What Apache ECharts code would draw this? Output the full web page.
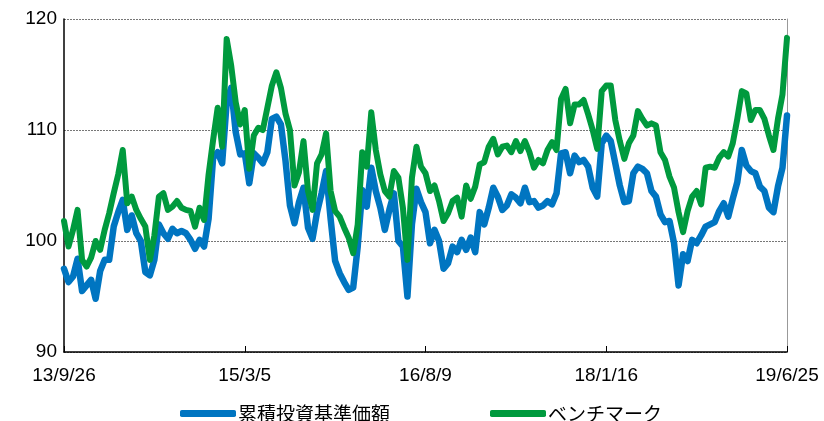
<!DOCTYPE html>
<html>
<head>
<meta charset="utf-8">
<script src="https://cdn.jsdelivr.net/npm/echarts@6/dist/echarts.min.js"></script>
<style>
  html, body { margin: 0; padding: 0; background: #fff; }
  #chart { width: 824px; height: 421px; }
</style>
</head>
<body>
<div id="chart"></div>
<script>
// x軸ラベル（40点ごと）
var xLabels = ["13/9/26", "15/3/5", "16/8/9", "18/1/16", "19/6/25"];
var labelStep = 40;
var yTicks = [90, 100, 110, 120];

// 累積投資基準価額
var fundValues = [
  97.5, 96.3, 96.8, 98.4, 95.5, 96.0, 96.5, 94.8, 97.3, 98.3,
  98.3, 101.3, 102.6, 103.7, 101.0, 102.3, 100.7, 100.0, 97.2, 96.9,
  98.3, 101.5, 100.7, 100.2, 101.1, 100.7, 100.9, 100.7, 100.1, 99.3,
  100.1, 99.5, 102.0, 107.5, 108.0, 107.0, 112.5, 113.8, 109.8, 107.8,
  107.9, 105.2, 107.9, 107.5, 107.0, 108.0, 111.0, 111.2, 110.5, 107.3,
  103.2, 101.6, 103.5, 104.8, 101.2, 100.2, 102.6, 104.3, 106.3, 102.0,
  98.2, 97.1, 96.3, 95.6, 95.8, 99.5, 104.6, 103.1, 106.6, 104.5,
  103.0, 101.0, 102.8, 104.3, 100.0, 99.5, 95.0, 101.5, 104.7, 103.5,
  102.6, 99.8, 101.0, 100.0, 97.5, 98.0, 99.5, 99.0, 100.1, 99.2,
  100.3, 99.0, 102.6, 101.5, 103.0, 104.8, 104.0, 102.8, 103.2, 104.2,
  103.9, 103.4, 104.8, 103.5, 103.6, 103.0, 103.2, 103.6, 103.3, 104.3,
  107.9, 108.0, 106.1, 107.7, 107.1, 107.3, 106.7, 104.8, 104.0, 108.8,
  109.5, 109.0, 107.0, 105.0, 103.5, 103.6, 106.1, 106.7, 106.5, 106.1,
  104.5, 104.0, 102.4, 101.7, 101.8, 99.8, 96.0, 98.8, 98.2, 100.1,
  99.8, 100.5, 101.3, 101.5, 101.7, 102.7, 103.4, 102.2, 103.8, 105.3,
  108.2, 106.8, 106.3, 106.1, 104.9, 104.5, 103.0, 102.6, 104.9, 106.6,
  111.3
];

// ベンチマーク
var benchValues = [
  101.8, 99.5, 101.0, 102.8, 98.3, 97.7, 98.5, 100.0, 99.2, 101.0,
  102.5, 104.3, 106.0, 108.2, 103.4, 104.0, 102.8, 102.0, 101.3, 98.3,
  100.5, 104.0, 104.3, 102.8, 103.1, 103.6, 103.0, 102.8, 102.7, 101.3,
  103.0, 101.9, 106.0, 109.1, 112.0, 108.5, 118.2, 115.8, 112.5, 110.5,
  111.8, 106.5, 109.5, 110.2, 110.0, 112.0, 114.0, 115.2, 113.8, 111.5,
  110.0, 105.0, 106.2, 109.0, 104.5, 102.8, 107.0, 107.8, 109.7, 104.5,
  102.7, 102.2, 101.2, 100.3, 98.9, 101.5, 108.0, 106.7, 111.6, 108.2,
  106.0, 104.5, 104.0, 106.3, 105.7, 103.0, 98.3, 105.7, 108.5, 106.7,
  106.1, 104.5, 105.0, 103.6, 101.8, 102.5, 103.6, 103.9, 102.2, 105.0,
  103.8, 104.9, 106.9, 107.1, 108.5, 109.2, 107.8, 108.5, 108.6, 108.0,
  109.0, 108.1, 109.0, 108.0, 106.6, 107.3, 107.0, 108.2, 108.9, 108.2,
  112.8, 113.7, 110.6, 112.3, 112.3, 112.7, 111.4, 110.0, 108.3, 113.5,
  114.0, 114.0, 110.9, 109.0, 107.4, 108.8, 109.5, 111.7, 111.0, 110.4,
  110.6, 110.4, 108.0, 107.3, 105.8, 104.8, 102.6, 100.8, 102.7, 104.0,
  104.5, 103.3, 106.6, 106.7, 106.6, 107.5, 108.0, 107.6, 108.8, 111.0,
  113.5, 113.3, 110.9, 111.8, 111.8, 111.0, 109.5, 108.2, 111.0, 113.2,
  118.3
];

var categories = fundValues.map(function (v, i) {
  return i % labelStep === 0 ? xLabels[i / labelStep] : "";
});
function onLabel(index) { return index % labelStep === 0; }

var chart = echarts.init(document.getElementById("chart"));
chart.setOption({
  animation: false,
  grid: { left: 64, right: 37, top: 19, height: 333 },
  legend: {
    left: 175,
    top: 399,
    icon: "roundRect",
    itemWidth: 56,
    itemHeight: 7,
    itemGap: 100,
    textStyle: { fontFamily: "Noto Sans CJK JP", fontSize: 19, color: "#000", padding: [0, 0, 0, -3] },
    data: ["累積投資基準価額", "ベンチマーク"]
  },
  xAxis: {
    type: "category",
    data: categories,
    boundaryGap: false,
    axisLine: { lineStyle: { color: "#000", width: 1.5 } },
    axisTick: { inside: true, length: 6, interval: onLabel, lineStyle: { color: "#000" } },
    axisLabel: {
      interval: onLabel, margin: 14, color: "#000",
      fontFamily: "Liberation Sans", fontSize: 19
    }
  },
  yAxis: [
    {
      type: "value",
      min: yTicks[0],
      max: yTicks[yTicks.length - 1],
      interval: 10,
      axisLine: { show: true, lineStyle: { color: "#000", width: 1.5 } },
      axisTick: { show: false },
      axisLabel: { margin: 7, color: "#000", fontFamily: "Liberation Sans", fontSize: 19 },
      splitLine: { lineStyle: { color: "#777", type: [2, 1], width: 1 } }
    },
    {
      type: "value",
      position: "right",
      min: yTicks[0],
      max: yTicks[yTicks.length - 1],
      axisLine: { show: true, lineStyle: { color: "#999", width: 1 } },
      axisTick: { show: false },
      axisLabel: { show: false },
      splitLine: { show: false }
    }
  ],
  series: [
    {
      name: "累積投資基準価額",
      type: "line",
      data: fundValues,
      showSymbol: false,
      color: "#0075C1",
      lineStyle: { width: 6.5, cap: "round", join: "round" }
    },
    {
      name: "ベンチマーク",
      type: "line",
      data: benchValues,
      showSymbol: false,
      color: "#009A3E",
      lineStyle: { width: 6, cap: "round", join: "round" }
    }
  ]
});
</script>
</body>
</html>
